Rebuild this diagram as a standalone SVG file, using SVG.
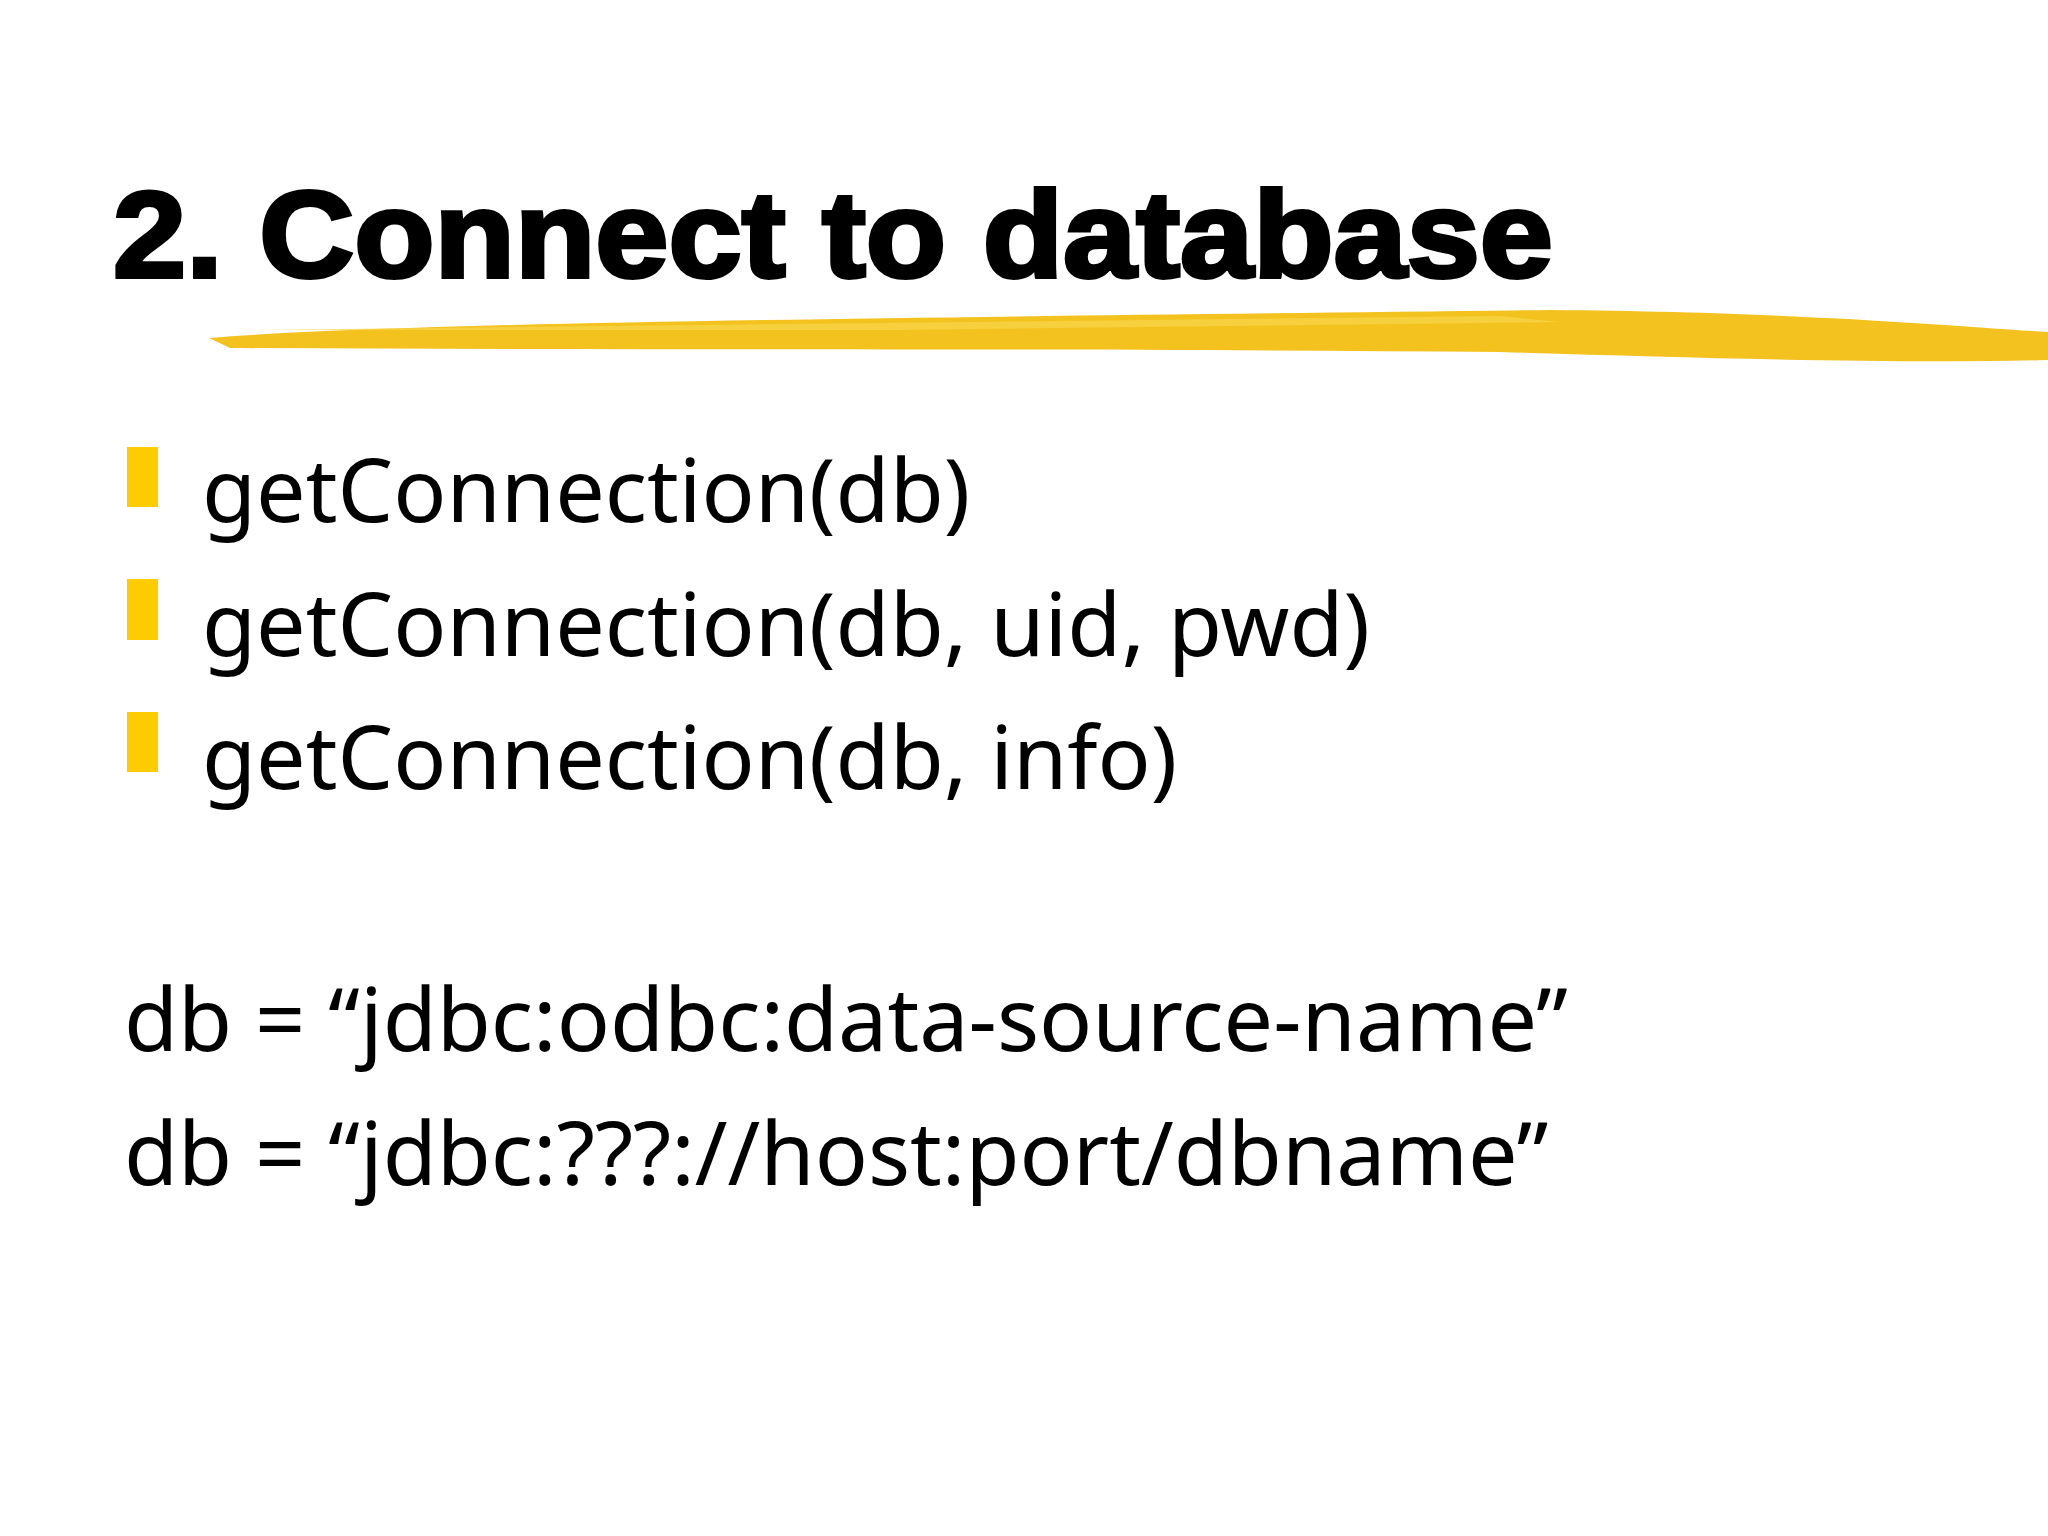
<svg xmlns="http://www.w3.org/2000/svg" width="2048" height="1536" viewBox="0 0 2048 1536">
<style>
.t{font-family:"Noto Sans","Open Sans",sans-serif;font-size:88px;fill:#000}
.b{fill:#FFCC00}
</style>
<rect width="2048" height="1536" fill="#fff"/>
<g id="title"><text x="113" y="277" font-family="'Liberation Sans',Arial,sans-serif" font-weight="900" font-size="122" textLength="1440" lengthAdjust="spacingAndGlyphs" stroke="#000" stroke-width="4">2. Connect to database</text></g>
<g id="brush">
<path d="M209 338 C400 322 900 318 1550 310 C1800 312 1950 326 2048 332 L2048 360 C1900 364 1700 358 1500 352 C1000 348 600 350 230 348 Z" fill="#F3C21F"/>
<path d="M250 330 L1500 316 L1560 322 L900 330 Z" fill="#F8D54A" opacity="0.7"/>
</g>
<g id="bullet1"><rect class="b" x="127" y="447" width="31" height="60"/><text class="t" x="202" y="522">getConnection(db)</text></g>
<g id="bullet2"><rect class="b" x="127" y="579" width="31" height="61"/><text class="t" x="202" y="656">getConnection(db, uid, pwd)</text></g>
<g id="bullet3"><rect class="b" x="127" y="712" width="31" height="60"/><text class="t" x="202" y="789">getConnection(db, info)</text></g>
<g id="db1"><text class="t" x="124" y="1051">db = “jdbc:odbc:data-source-name”</text></g>
<g id="db2"><text class="t" x="124" y="1185">db = “jdbc:???://host:port/dbname”</text></g>
</svg>
